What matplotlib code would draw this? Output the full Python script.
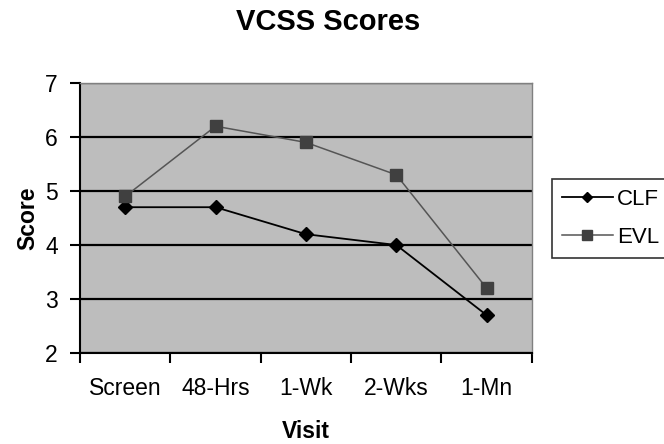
import numpy as np
import matplotlib.pyplot as plt

# VCSS scores by visit
visits = ["Screen", "48-Hrs", "1-Wk", "2-Wks", "1-Mn"]
clf_scores = [4.7, 4.7, 4.2, 4.0, 2.7]
evl_scores = [4.9, 6.2, 5.9, 5.3, 3.2]

plt.rcParams['font.family'] = ['Liberation Sans', 'DejaVu Sans']

fig = plt.figure(figsize=(6.64, 4.44), dpi=100)
ax = fig.add_axes([0.1205, 0.205, 0.6805, 0.608])
ax.set_facecolor("#bdbdbd")

x = np.arange(len(visits))
ax.plot(x, clf_scores, color="black", lw=1.3, marker="D", ms=7,
        mfc="black", mec="black", label="CLF", zorder=4)
ax.plot(x, evl_scores, color="#555555", lw=1.1, marker="s", ms=9,
        mfc="#404040", mec="#404040", label="EVL", zorder=4)

ax.set_xlim(-0.5, len(visits) - 0.5)
ax.set_ylim(2, 7)
ax.set_yticks(range(2, 8))
ax.set_xticks(x)
ax.set_xticklabels(visits)
ax.set_xticks(np.arange(-0.5, len(visits)), minor=True)
ax.tick_params(axis="x", which="major", length=0, pad=17, labelsize=16.5)
ax.tick_params(axis="x", which="minor", length=7, width=1.5, direction="out")
ax.tick_params(axis="y", length=7, width=1.5, labelsize=16.5, pad=9)

ax.yaxis.grid(True, color="black", lw=1.6)
ax.set_axisbelow(True)
for s in ["top", "right"]:
    ax.spines[s].set_color("#808080")
    ax.spines[s].set_linewidth(1)
for s in ["left", "bottom"]:
    ax.spines[s].set_color("black")
    ax.spines[s].set_linewidth(1.5)

ax.set_xlabel("Visit", fontsize=16.5, fontweight="bold", labelpad=15)
ax.set_ylabel("Score", fontsize=16.5, fontweight="bold", labelpad=4)
fig.text(0.494, 0.95, "VCSS Scores", fontsize=21, fontweight="bold",
         ha="center", va="center")

leg = fig.legend(loc="upper left", bbox_to_anchor=(0.831, 0.597),
                 fontsize=16, frameon=True, fancybox=False,
                 handlelength=2.3, handletextpad=0.2, borderpad=0.45,
                 labelspacing=0.75, borderaxespad=0, markerscale=0.8)
leg.get_frame().set_edgecolor("black")
leg.get_frame().set_linewidth(1.2)

fig.savefig("out.png", dpi=100)
